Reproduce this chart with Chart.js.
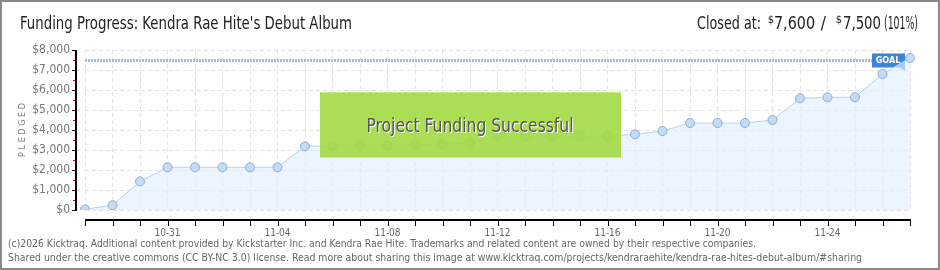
<!DOCTYPE html>
<html>
<head>
<meta charset="utf-8">
<script src="https://cdn.jsdelivr.net/npm/chart.js@4.4.1/dist/chart.umd.min.js"></script>
<style>
  html, body { margin: 0; padding: 0; background: #fff; }
  canvas { display: block; }
</style>
</head>
<body>
<canvas id="chart" width="940" height="270"></canvas>
<script>
// daily pledge totals
var dates = ['10-28','10-29','10-30','10-31','11-01','11-02','11-03','11-04','11-05','11-06',
  '11-07','11-08','11-09','11-10','11-11','11-12','11-13','11-14','11-15','11-16',
  '11-17','11-18','11-19','11-20','11-21','11-22','11-23','11-24','11-25','11-26','11-27'];
var pledged = [35, 240, 1430, 2135, 2135, 2135, 2135, 2135, 3185, 3200,
  3230, 3230, 3270, 3290, 3360, 3685, 3685, 3685, 3685, 3685,
  3785, 3950, 4350, 4350, 4350, 4500, 5585, 5635, 5635, 6800, 7600];
var goal = 7500;
var yTicks = [0, 1000, 2000, 3000, 4000, 5000, 6000, 7000, 8000];

var FONT = "'Liberation Sans Narrow', 'DejaVu Sans Condensed', sans-serif";

function txt(ctx, s, x, y, size, color, align, maxW) {
  ctx.font = size + 'px ' + FONT;
  ctx.fillStyle = color;
  ctx.textAlign = align || 'left';
  ctx.textBaseline = 'alphabetic';
  if (maxW) ctx.fillText(s, x, y, maxW);
  else ctx.fillText(s, x, y);
}

var backdrop = {
  id: 'backdrop',
  beforeDraw: function (chart) {
    var ctx = chart.ctx;
    ctx.save();
    ctx.fillStyle = '#fff';
    ctx.fillRect(0, 0, chart.width, chart.height);
    ctx.restore();
  },
  beforeDatasetsDraw: function (chart) {
    var ctx = chart.ctx, x = chart.scales.x, y = chart.scales.y;
    var gy = Math.round(y.getPixelForValue(goal)) + 0.5;
    ctx.save();
    // goal line
    ctx.strokeStyle = '#9cbee6';
    ctx.lineWidth = 3;
    ctx.setLineDash([2, 1]);
    ctx.beginPath();
    ctx.moveTo(x.getPixelForValue(0), gy);
    ctx.lineTo(872, gy);
    ctx.stroke();
    ctx.setLineDash([]);
    // goal tag
    ctx.fillStyle = '#3d86d6';
    ctx.fillRect(872, gy - 7, 33, 14);
    ctx.beginPath();
    ctx.moveTo(899, gy + 7);
    ctx.lineTo(905, gy + 7);
    ctx.lineTo(905, gy + 10);
    ctx.closePath();
    ctx.fill();
    ctx.font = 'bold 9px ' + FONT;
    ctx.fillStyle = '#fff';
    ctx.textAlign = 'center';
    ctx.textBaseline = 'middle';
    ctx.fillText('GOAL', 888, gy + 0.5);
    ctx.restore();
  },
  afterDraw: function (chart) {
    var ctx = chart.ctx, x = chart.scales.x, y = chart.scales.y;
    var area = chart.chartArea;
    ctx.save();

    // y axis ticks, then the axis line on top
    ctx.lineWidth = 1;
    yTicks.forEach(function (v) {
      var p = Math.round(y.getPixelForValue(v)) + 0.5;
      ctx.strokeStyle = '#000';
      ctx.beginPath();
      ctx.moveTo(72, p);
      ctx.lineTo(76, p);
      ctx.stroke();
      if (v < 8000) {
        var h = Math.round(y.getPixelForValue(v + 500)) + 0.5;
        ctx.strokeStyle = '#e00';
        ctx.beginPath();
        ctx.moveTo(73, h);
        ctx.lineTo(75, h);
        ctx.stroke();
      }
    });
    ctx.fillStyle = '#000';
    ctx.fillRect(75, area.top, 2, area.bottom - area.top + 1);

    // x axis line with ticks
    ctx.fillRect(area.left, 219, area.right - area.left + 1, 2);
    ctx.strokeStyle = '#000';
    ctx.lineWidth = 1;
    dates.forEach(function (d, i) {
      var p = Math.round(x.getPixelForValue(i)) + 0.5;
      ctx.beginPath();
      ctx.moveTo(p, 221);
      ctx.lineTo(p, 226);
      ctx.stroke();
    });

    // axis title
    ctx.save();
    ctx.translate(23, 130);
    ctx.rotate(-Math.PI / 2);
    ctx.font = '9px ' + FONT;
    ctx.fillStyle = '#777';
    ctx.textAlign = 'center';
    ctx.textBaseline = 'middle';
    ctx.fillText('P L E D G E D', 0, 0);
    ctx.restore();

    // success banner
    ctx.fillStyle = 'rgba(160, 218, 62, 0.88)';
    ctx.fillRect(320, 92, 301, 66);
    ctx.fillStyle = 'rgba(200, 240, 130, 0.8)';
    ctx.fillRect(320, 92, 301, 1);
    ctx.fillStyle = 'rgba(210, 240, 160, 0.8)';
    ctx.fillRect(320, 157, 301, 1);
    txt(ctx, 'Project Funding Successful', 471, 133, 20, '#fff', 'center', 207);
    txt(ctx, 'Project Funding Successful', 470, 132, 20, '#555', 'center', 207);

    // header
    txt(ctx, "Funding Progress: Kendra Rae Hite's Debut Album", 20, 29, 17, '#222', 'left', 332);
    txt(ctx, '(101%)', 918, 29, 17, '#222', 'right', 34);
    txt(ctx, '7,500', 881, 29, 17, '#222', 'right', 38);
    txt(ctx, '$', 842, 23, 11, '#222', 'right');
    txt(ctx, '/', 826, 29, 17, '#222', 'right');
    txt(ctx, '7,600', 815, 29, 17, '#222', 'right', 41);
    txt(ctx, '$', 774, 23, 11, '#222', 'right');
    txt(ctx, 'Closed at:', 697, 29, 17, '#222', 'left', 64);

    // footer
    txt(ctx, '(c)2026 Kicktraq. Additional content provided by Kickstarter Inc. and Kendra Rae Hite. Trademarks and related content are owned by their respective companies.', 8, 247, 11, '#666', 'left', 748);
    txt(ctx, 'Shared under the creative commons (CC BY-NC 3.0) license. Read more about sharing this image at www.kicktraq.com/projects/kendraraehite/kendra-rae-hites-debut-album/#sharing', 8, 261, 11, '#666', 'left', 854);

    // frame
    ctx.strokeStyle = '#8a8a8a';
    ctx.lineWidth = 2;
    ctx.strokeRect(1, 1, chart.width - 2, chart.height - 2);
    ctx.restore();
  }
};

var chart = new Chart(document.getElementById('chart'), {
  type: 'line',
  data: {
    labels: dates,
    datasets: [{
      data: pledged,
      borderColor: '#b6d2f0',
      borderWidth: 1,
      backgroundColor: 'rgba(226, 238, 252, 0.65)',
      fill: 'origin',
      tension: 0,
      pointRadius: 4.5,
      pointBackgroundColor: '#c4dbf6',
      pointBorderColor: '#8eaed6',
      pointBorderWidth: 1
    }]
  },
  options: {
    responsive: false,
    animation: false,
    layout: { padding: { top: 50, right: 30, left: 0, bottom: 0 } },
    plugins: { legend: { display: false }, tooltip: { enabled: false } },
    scales: {
      x: {
        offset: false,
        grid: { color: '#e2e2e2', drawTicks: false },
        border: { display: false, dash: [4, 3] },
        ticks: {
          autoSkip: false,
          maxRotation: 0,
          padding: 17,
          color: '#666',
          font: { family: FONT, size: 10 },
          callback: function (v, i) { return i % 4 === 3 ? dates[i] : ''; }
        },
        afterFit: function (s) { s.height = 60; }
      },
      y: {
        min: 0,
        max: 8000,
        grid: { color: '#e2e2e2', drawTicks: false },
        border: { display: false, dash: [4, 3] },
        ticks: {
          stepSize: 1000,
          padding: 15,
          color: '#777',
          font: { family: FONT, size: 12 },
          callback: function (v) { return '$' + v.toLocaleString('en-US'); }
        },
        afterFit: function (s) { s.width = 85; }
      }
    }
  },
  plugins: [backdrop]
});
</script>
</body>
</html>
